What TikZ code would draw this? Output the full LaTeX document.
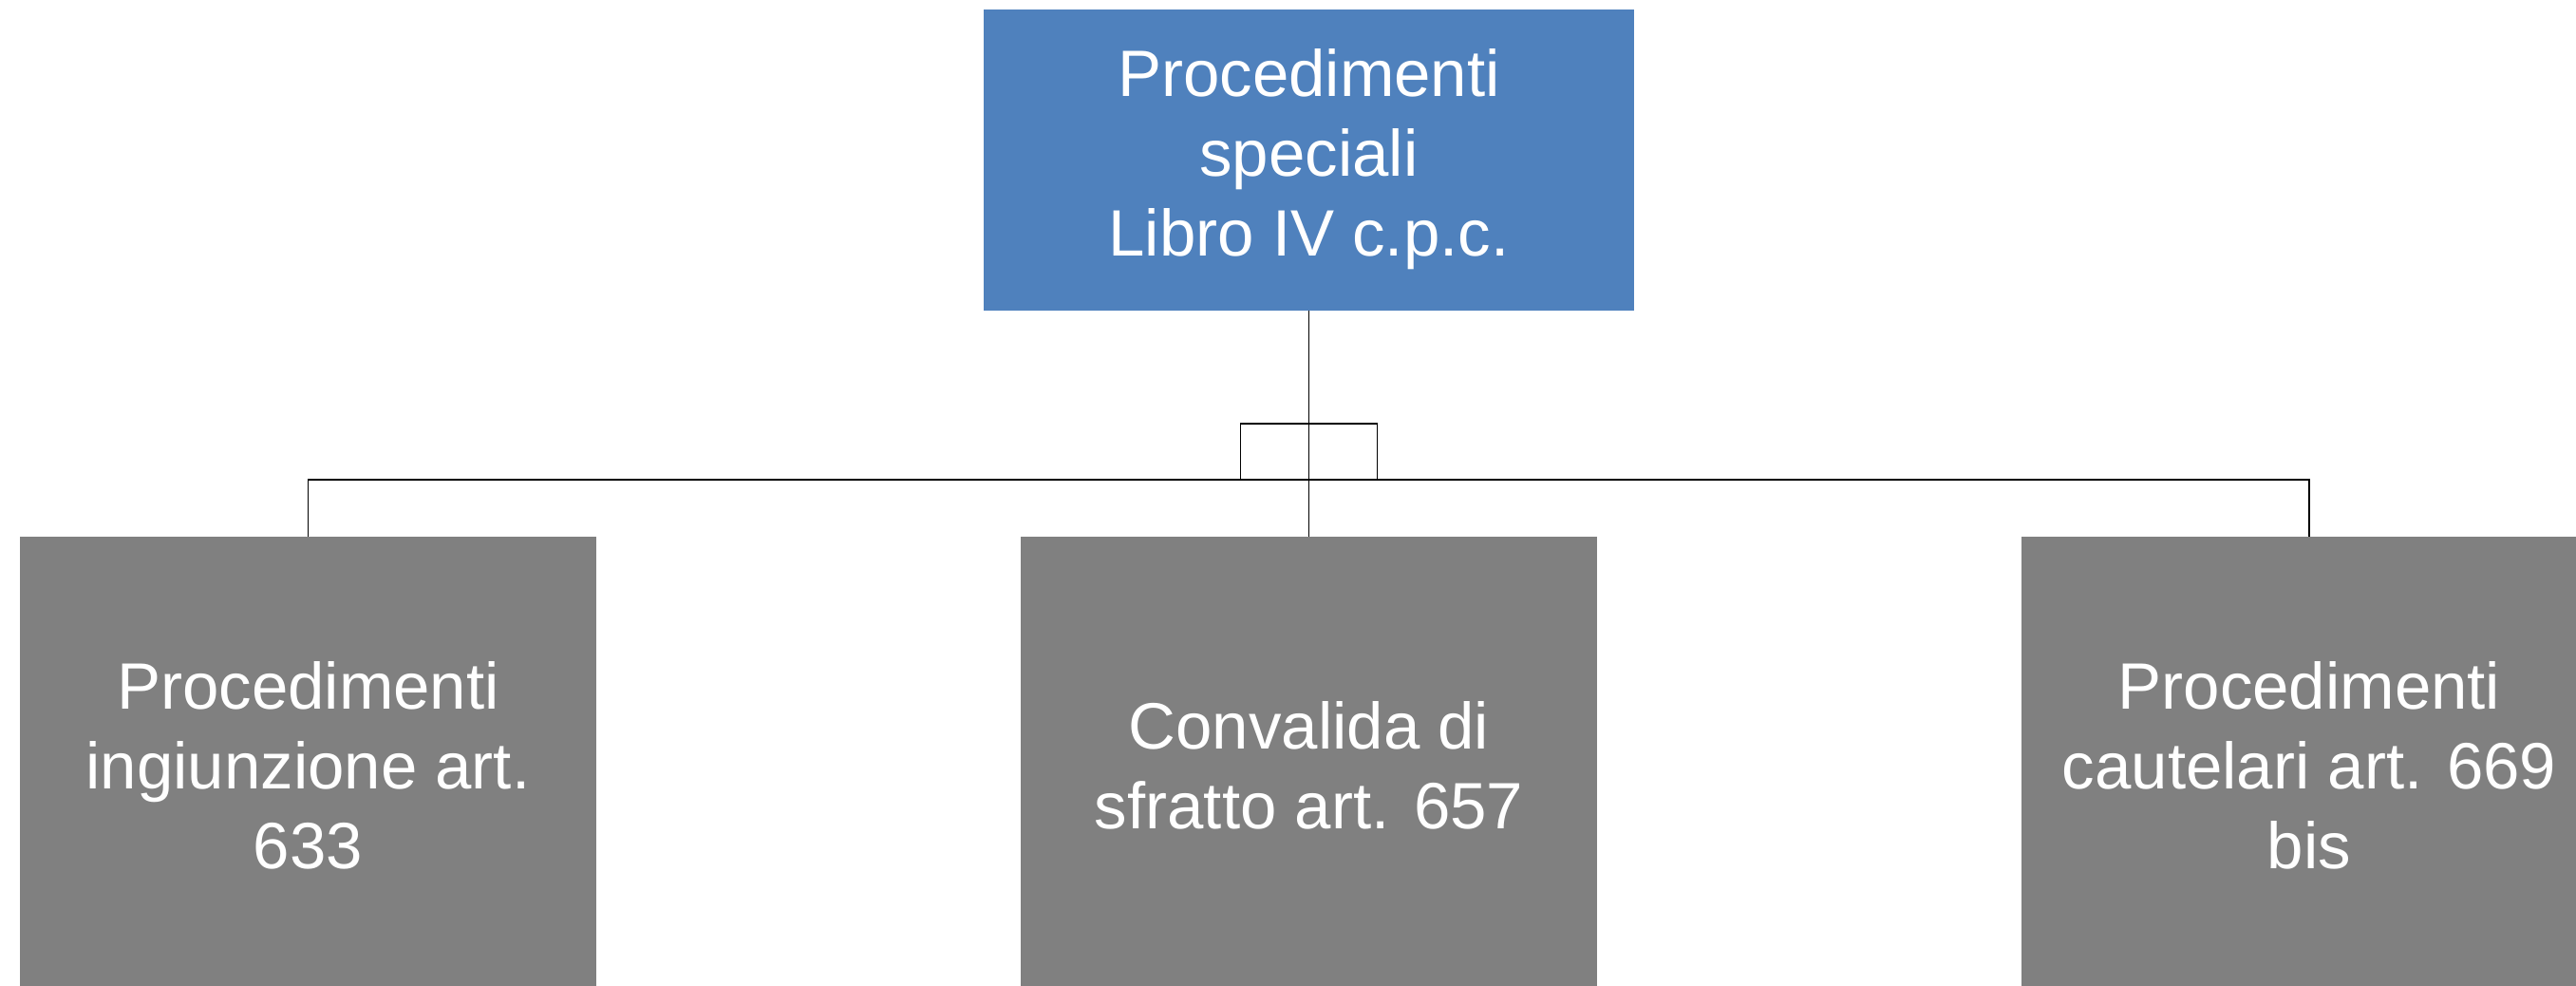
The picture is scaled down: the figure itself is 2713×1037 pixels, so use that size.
\documentclass[tikz,border=0pt]{standalone}
\usepackage{fontspec}
\setmainfont{Liberation Sans}
\definecolor{topblue}{HTML}{4F81BD}
\definecolor{boxgray}{HTML}{808080}
\begin{document}
\begin{tikzpicture}[x=1pt,y=-1pt,
  boxtext/.style={text=white,align=center,font=\fontsize{69}{84}\selectfont,inner sep=0pt},
  topbox/.style={boxtext,fill=topblue,minimum width=685pt,minimum height=317pt},
  childbox/.style={boxtext,fill=boxgray,minimum width=607pt,minimum height=482pt},
  conn/.style={draw=black,line width=1.3pt},
  junction/.style={draw=black,line width=1.3pt,minimum width=144pt,minimum height=59pt,inner sep=0pt}]
\useasboundingbox (0,0) rectangle (2713,1037);
\fill[white] (0,0) rectangle (2713,1037);
\node[topbox] (top) at (1378.5,168) {Procedimenti\\speciali\\Libro IV c.p.c.};
\node[childbox] (left) at (324.5,806) {Procedimenti\\ingiunzione art.\\633};
\node[childbox] (mid) at (1378.5,806) {Convalida di\\sfratto art. 657};
\node[childbox] (right) at (2432,806) {Procedimenti\\cautelari art. 669\\bis};
\node[junction] (jbox) at (1378.5,475.5) {};
\coordinate (hj) at (1378.5,505);
\draw[conn] (top.south) -- (mid.north);
\draw[conn] (left.north) |- (hj) -| (right.north);
\end{tikzpicture}
\end{document}
